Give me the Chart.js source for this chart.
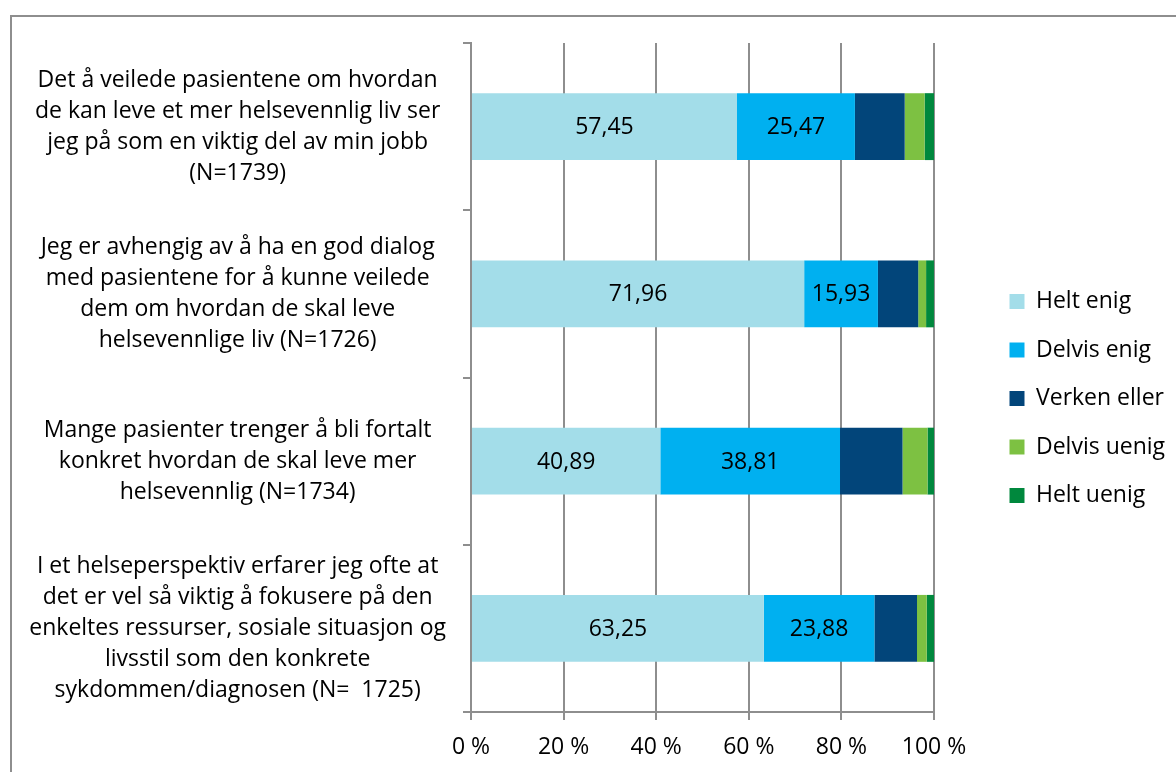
<!DOCTYPE html>
<html>
<head>
<meta charset="utf-8">
<script src="https://cdn.jsdelivr.net/npm/chart.js@4/dist/chart.umd.min.js"></script>
<style>
  html, body { margin: 0; padding: 0; background: #ffffff; overflow: hidden; }
  #frame { position: absolute; left: 10px; top: 15px; width: 1200px; height: 800px; border-left: 2px solid #8e8e8e; border-top: 2px solid #8e8e8e; box-sizing: border-box; }
  #c { position: absolute; left: 0; top: 0; }
</style>
</head>
<body>
<div id="frame"></div>
<canvas id="c" width="1176" height="772"></canvas>
<script>
const categories = [
  ["Det å veilede pasientene om hvordan", "de kan leve et mer helsevennlig liv ser", "jeg på som en viktig del av min jobb", "(N=1739)"],
  ["Jeg er avhengig av å ha en god dialog", "med pasientene for å kunne veilede", "dem om hvordan de skal leve", "helsevennlige liv (N=1726)"],
  ["Mange pasienter trenger å bli fortalt", "konkret hvordan de skal leve mer", "helsevennlig (N=1734)"],
  ["I et helseperspektiv erfarer jeg ofte at", "det er vel så viktig å fokusere på den", "enkeltes ressurser, sosiale situasjon og", "livsstil som den konkrete", "sykdommen/diagnosen (N=  1725)"]
];
const seriesNames = ["Helt enig", "Delvis enig", "Verken eller", "Delvis uenig", "Helt uenig"];
const heltEnig    = [57.45, 71.96, 40.89, 63.25];
const delvisEnig  = [25.47, 15.93, 38.81, 23.88];
const verkenEller = [10.75, 8.70, 13.50, 9.20];
const delvisUenig = [4.30, 1.70, 5.40, 2.10];
const heltUenig   = [2.03, 1.70, 1.40, 1.57];
const xTicks = [0, 20, 40, 60, 80, 100];
const labelledSeries = [0, 1];

const colors = ["#A3DDE9", "#00B0F0", "#02457A", "#7DC142", "#00883D"];
const FONT = "'Open Sans'";
const FS = 23;
const GRID = "#8e8e8e";

const valuesList = [heltEnig, delvisEnig, verkenEller, delvisUenig, heltUenig];

const datasets = seriesNames.map((name, i) => ({
  label: name,
  data: valuesList[i],
  backgroundColor: colors[i],
  borderWidth: 0,
  barPercentage: 0.4,
  categoryPercentage: 1.0
}));

const barLabels = {
  id: "barLabels",
  afterDatasetsDraw(chart) {
    const ctx = chart.ctx;
    ctx.save();
    ctx.font = FS + "px " + FONT;
    ctx.fillStyle = "#000";
    ctx.textAlign = "center";
    ctx.textBaseline = "middle";
    labelledSeries.forEach(di => {
      const meta = chart.getDatasetMeta(di);
      meta.data.forEach((el, j) => {
        const v = chart.data.datasets[di].data[j];
        const x = (el.x + el.base) / 2;
        ctx.fillText(v.toFixed(2).replace(".", ","), x, el.y + 1);
      });
    });
    ctx.restore();
  }
};

const LEG_W = 242;
const LEG_SHIFT = 50;
const LEG_VSHIFT = -9;
const legendTweak = {
  id: "legendTweak",
  afterInit(chart) {
    const lg = chart.legend;
    if (!lg) return;
    const fit = lg.fit.bind(lg);
    lg.fit = function () { fit(); this.width = LEG_W; };
    const draw = lg.draw.bind(lg);
    lg.draw = function () {
      this.left += LEG_SHIFT; this.top += LEG_VSHIFT; this.bottom += LEG_VSHIFT;
      draw();
      this.left -= LEG_SHIFT; this.top -= LEG_VSHIFT; this.bottom -= LEG_VSHIFT;
    };
  }
};

new Chart(document.getElementById("c"), {
  type: "bar",
  data: { labels: categories, datasets },
  plugins: [barLabels, legendTweak],
  options: {
    indexAxis: "y",
    responsive: false,
    animation: false,
    layout: { padding: { top: 43, left: 10, right: 0, bottom: 0 } },
    plugins: {
      tooltip: { enabled: false },
      legend: {
        position: "right",
        align: "center",
        labels: {
          boxWidth: 15,
          boxHeight: 15,
          padding: 25.5,
          color: "#000",
          font: { family: FONT, size: FS }
        }
      }
    },
    scales: {
      x: {
        stacked: true,
        min: 0,
        max: 100,
        afterBuildTicks(scale) { scale.ticks = xTicks.map(v => ({ value: v })); },
        afterFit(scale) { scale.height = 60; scale.paddingLeft = 0; scale.paddingRight = 0; },
        ticks: {
          color: "#000",
          padding: 14,
          font: { family: FONT, size: FS },
          callback: v => v + " %"
        },
        grid: { color: GRID, lineWidth: 2, tickLength: 8, drawTicks: true },
        border: { display: true, color: GRID, width: 2 }
      },
      y: {
        stacked: true,
        afterFit(scale) { scale.width = 461; scale.paddingTop = 0; scale.paddingBottom = 0; },
        ticks: {
          color: "#000",
          crossAlign: "center",
          padding: 17,
          font: { family: FONT, size: FS, lineHeight: 31 / FS }
        },
        grid: { color: GRID, lineWidth: 2, tickLength: 8, drawOnChartArea: false, offset: true },
        border: { display: true, color: GRID, width: 2 }
      }
    }
  }
});
</script>
</body>
</html>
